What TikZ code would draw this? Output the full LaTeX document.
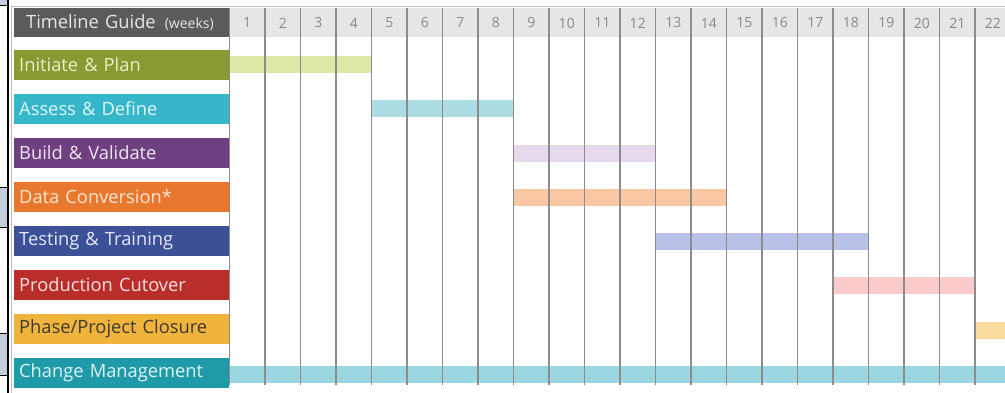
\documentclass[tikz,border=0pt]{standalone}
\usepackage{fontspec}
\setmainfont{Open Sans}
\definecolor{hdr}{HTML}{5B5B5B}
\definecolor{hdrbg}{HTML}{E6E6E6}
\definecolor{gridc}{HTML}{8C8C8C}
\definecolor{wkc}{HTML}{8A8A8A}
\definecolor{cA}{HTML}{8A9A33}\definecolor{bA}{HTML}{DDE8A6}\definecolor{tA}{HTML}{E8EEC6}
\definecolor{cB}{HTML}{35B6C9}\definecolor{bB}{HTML}{ACDDE5}\definecolor{tB}{HTML}{E2F5F8}
\definecolor{cC}{HTML}{6E4080}\definecolor{bC}{HTML}{E5D9EC}\definecolor{tC}{HTML}{EEE4F2}
\definecolor{cD}{HTML}{E8782E}\definecolor{bD}{HTML}{FBC6A4}\definecolor{tD}{HTML}{FCE6D6}
\definecolor{cE}{HTML}{3C5098}\definecolor{bE}{HTML}{B9C1E8}\definecolor{tE}{HTML}{E4E8F6}
\definecolor{cF}{HTML}{B92D2A}\definecolor{bF}{HTML}{FBCACA}\definecolor{tF}{HTML}{F8E0DE}
\definecolor{cG}{HTML}{F0B33C}\definecolor{bG}{HTML}{FBDB9B}\definecolor{tG}{HTML}{3D3A33}
\definecolor{cH}{HTML}{1E9AA8}\definecolor{bH}{HTML}{9AD7E1}\definecolor{tH}{HTML}{E0F4F7}
\definecolor{sideb}{HTML}{C5CEDB}
\tikzset{
  lab/.style={anchor=west, minimum height=30pt, text width=205pt, inner xsep=5pt, inner ysep=0pt, align=left, font=\fontsize{18.3}{20}\selectfont},
  barbox/.style={anchor=west, minimum height=17pt, inner sep=0pt},
  wk/.style={text=wkc, font=\fontsize{14}{16}\selectfont, inner sep=0pt},
  gridline/.style={draw=gridc, line width=1.2pt},
  sidebox/.style={fill=sideb, draw=black, line width=1pt},
}
\begin{document}
\begin{tikzpicture}[x=1pt,y=-1pt]
\useasboundingbox (0,0) rectangle (1005,393);
\fill[white] (0,0) rectangle (1005,393);
% left edge artifacts
\draw[sidebox] (-2,-2) rectangle (7.5,6);
\draw[sidebox] (-2,188) rectangle (7.5,228);
\draw[sidebox] (-2,333) rectangle (7.5,375);
\draw[black, line width=1.5pt] (8,0) -- (8,393);
% outer frame
\draw[gray!50, line width=0.8pt] (11.5,393) -- (11.5,6.5) -- (1005,6.5);
% header
\fill[hdrbg] (229.5,8) rectangle (1005,37);
\node[lab, fill=hdr, text=hdrbg, text width=201pt, inner xsep=7pt, minimum height=29pt] (hd) at (14,22.5)
  {\hspace*{5pt}Timeline Guide\hspace{9pt}{\fontsize{14}{15}\selectfont (weeks)}};
\foreach \i in {1,...,22} \node[wk] (w\i) at ({229.5+35.5*(\i-0.5)},23) {\i};
% labels
\node[lab, fill=cA, text=tA] (l1) at (14,65) {Initiate \& Plan};
\node[lab, fill=cB, text=tB] (l2) at (14,109) {Assess \& Define};
\node[lab, fill=cC, text=tC] (l3) at (14,153) {Build \& Validate};
\node[lab, fill=cD, text=tD] (l4) at (14,197) {Data Conversion*};
\node[lab, fill=cE, text=tE] (l5) at (14,241) {Testing \& Training};
\node[lab, fill=cF, text=tF] (l6) at (14,285) {Production Cutover};
\node[lab, fill=cG, text=tG] (l7) at (14,329) {Phase/Project Closure};
\node[lab, fill=cH, text=tH] (l8) at (14,373) {Change Management};
% bars
\node[barbox, fill=bA, minimum width=142pt] (b1) at (229.5,65) {};
\node[barbox, fill=bB, minimum width=142pt] (b2) at (371.5,108.5) {};
\node[barbox, fill=bC, minimum width=142pt] (b3) at (513.5,153.5) {};
\node[barbox, fill=bD, minimum width=213pt] (b4) at (513.5,197.5) {};
\node[barbox, fill=bE, minimum width=213pt] (b5) at (655.5,241.5) {};
\node[barbox, fill=bF, minimum width=142pt] (b6) at (833,285) {};
\node[barbox, fill=bG, minimum width=40pt] (b7) at (975,330) {};
\node[barbox, fill=bH, minimum width=781pt] (b8) at (229.5,374.5) {};
% grid lines
\foreach \i in {0,...,22} \draw[gridline] ({229.5+35.5*\i},8) -- ({229.5+35.5*\i},385);
\end{tikzpicture}
\end{document}
